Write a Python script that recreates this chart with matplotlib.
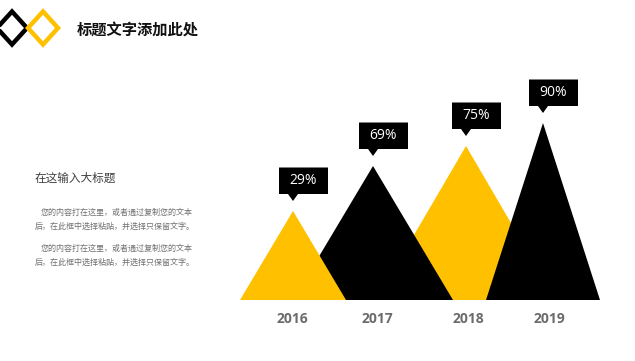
import matplotlib
matplotlib.use('Agg')
import matplotlib.pyplot as plt
from matplotlib.patches import Polygon

# data
years = ['2016', '2017', '2018', '2019']
values = [29, 69, 75, 90]
peak_x = [293, 373, 466, 543]          # apex position along the base line
peak_h = [89, 134, 154, 177]           # apex height above the base line
half_w = [53, 80, 90, 57]              # half width of each triangle base
colors = ['#FFC000', '#000000', '#FFC000', '#000000']
draw_order = [2, 1, 0, 3]              # back to front

title = '标题文字添加此处'
subtitle = '在这输入大标题'
paragraph = ['您的内容打在这里，或者通过复制您的文本', '后，在此框中选择粘贴，并选择只保留文字。']

W, H = 635, 361
cjk = ['Noto Sans CJK SC', 'DejaVu Sans']

fig = plt.figure(figsize=(W / 100, H / 100), dpi=100)
fig.patch.set_facecolor('white')

# page axes in pixel units (y down)
ax = fig.add_axes([0, 0, 1, 1])
ax.set_xlim(0, W)
ax.set_ylim(H, 0)
ax.axis('off')

# two diamond outlines at top left
for cx, col in [(12, '#000000'), (43, '#FFC000')]:
    ax.add_patch(Polygon([(cx - 15, 28), (cx, 11.5), (cx + 15, 28), (cx, 44.5)],
                         closed=True, fill=False, edgecolor=col, linewidth=3.2,
                         joinstyle='miter'))

ax.text(77, 30, title, family=cjk, fontsize=11, fontweight='bold',
        color='#111111', ha='left', va='center')
ax.text(35, 178, subtitle, family=cjk, fontsize=8.4, fontweight='light',
        color='#404040', ha='left', va='center')
for y0 in (212, 248):
    ax.text(41, y0, paragraph[0], family=cjk, fontsize=5.8, color='#707070',
            ha='left', va='center')
    ax.text(35, y0 + 14, paragraph[1], family=cjk, fontsize=5.8, color='#707070',
            ha='left', va='center')

# chart axes: base line at y=300 px, same pixel scale
base = 300
top = 70
cax = fig.add_axes([0, (H - base) / H, 1, (base - top) / H])
cax.set_xlim(0, W)
cax.set_ylim(0, base - top)
cax.axis('off')

for i in draw_order:
    cax.fill([peak_x[i] - half_w[i], peak_x[i], peak_x[i] + half_w[i]],
             [0, peak_h[i], 0], color=colors[i], linewidth=0)

# callout boxes
gap, ptr, bh = 10, 7, 26.5
for x, h, v in zip(peak_x, peak_h, values):
    tip = h + gap
    b0 = tip + ptr
    cax.add_patch(Polygon([(x - 14, b0), (x - 5, b0), (x, tip), (x + 5, b0),
                           (x + 35, b0), (x + 35, b0 + bh), (x - 14, b0 + bh)],
                          closed=True, facecolor='black', edgecolor='none'))
    cax.text(x + 10.5, b0 + bh / 2, f'{v}%', family='Open Sans', fontsize=10,
             color='white', ha='center', va='center')

year_x = [292, 377, 468, 549]
for x, yr in zip(year_x, years):
    cax.text(x, -19, yr, family='Open Sans', fontsize=10, fontweight='bold',
             color='#6b6b6b', ha='center', va='center')

fig.savefig('out.png', dpi=100)
